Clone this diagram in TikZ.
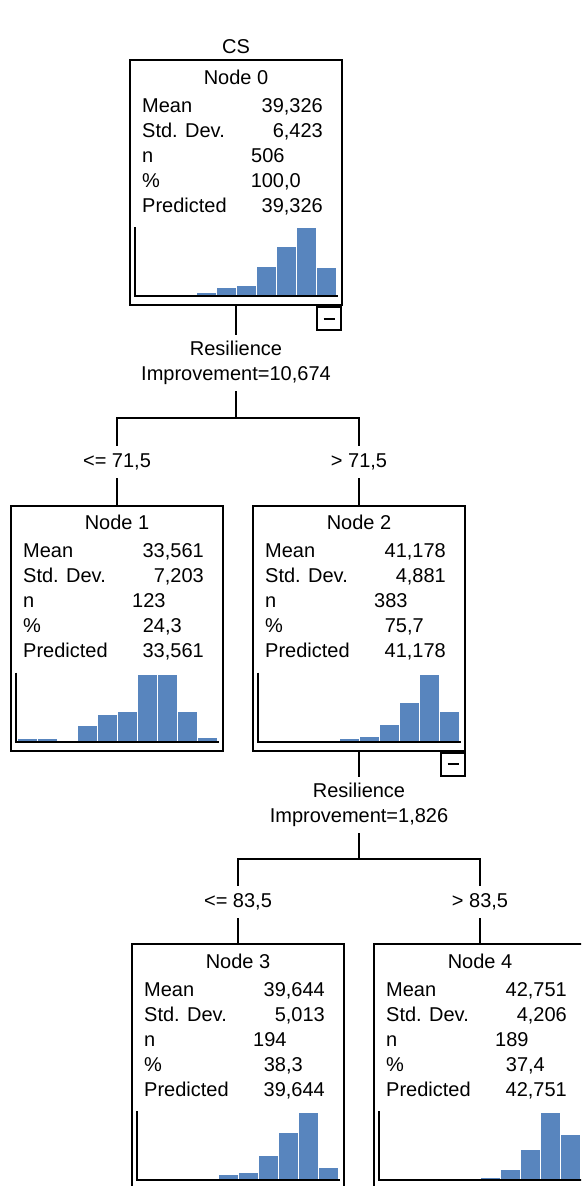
\documentclass[tikz,border=0pt]{standalone}
\usepackage{fontspec}
\setmainfont{Liberation Sans}
\definecolor{barblue}{RGB}{88,133,190}
\newcommand{\treebox}[8]{
\node[box] (#1) at #2 {};
\node[txt, anchor=base] (#1-title) at ([yshift=-25]#1.north) {#3};
\node[txt, anchor=base west] (#1-l1) at ([shift={(13,-53)}]#1.north west) {Mean};
\node[txt, anchor=base west] (#1-l2) at ([shift={(13,-78)}]#1.north west) {Std. Dev.};
\node[txt, anchor=base west] (#1-l3) at ([shift={(13,-103)}]#1.north west) {n};
\node[txt, anchor=base west] (#1-l4) at ([shift={(13,-128)}]#1.north west) {\%};
\node[txt, anchor=base west] (#1-l5) at ([shift={(13,-153)}]#1.north west) {Predicted};
\node[txt, anchor=base east] (#1-v1) at ([shift={(194,-53)}]#1.north west) {#4};
\node[txt, anchor=base east] (#1-v2) at ([shift={(194,-78)}]#1.north west) {#5};
\node[txt, anchor=base west] (#1-v3) at ([shift={(122,-103)}]#1.north west) {#6};
\node[txt, anchor=base east] (#1-v4) at ([shift={(172,-128)}]#1.north west) {#7};
\node[txt, anchor=base east] (#1-v5) at ([shift={(194,-153)}]#1.north west) {#4};
\foreach \h [count=\i] in {#8}
  \fill[bar] ([shift={({7.5+20*(\i-1)},-237)}]#1.north west) rectangle ++(20,\h);
\draw[axis] ([shift={(6,-168)}]#1.north west) |- ([shift={(-5,-237)}]#1.north east);
}
\begin{document}
\begin{tikzpicture}[x=1pt, y=1pt,
  every node/.style={font=\fontsize{20}{25}\selectfont},
  box/.style={draw, line width=2pt, minimum width=212, minimum height=245, inner sep=0pt},
  txt/.style={inner sep=0pt},
  bar/.style={fill=barblue, draw=white, line width=0.8pt},
  axis/.style={line width=2pt},
  link/.style={line width=2pt},
  minus/.style={draw, line width=2pt, minimum width=24, minimum height=23, inner sep=0pt},
  split/.style={align=center, inner xsep=2pt, inner ysep=6pt},
  branch/.style={inner xsep=2pt, inner ysep=8pt}]
\useasboundingbox (0,0) rectangle (581,-1186);
\clip (0,0) rectangle (581,-1186);
\node (title) at (236,-47) {CS};
\treebox{n0}{(236,-182.5)}{Node 0}{39,326}{6,423}{506}{100,0}{1.7,1.7,0,4,8.7,11,29.7,49.7,68.3,29}
\treebox{n1}{(117,-628)}{Node 1}{33,561}{7,203}{123}{24,3}{2.7,2.7,0,16,26.7,30,67,67,30,4.3}
\treebox{n2}{(359,-628)}{Node 2}{41,178}{4,881}{383}{75,7}{0,0,0,0,3.3,5,17,39,67,30}
\treebox{n3}{(238,-1066.5)}{Node 3}{39,644}{5,013}{194}{38,3}{0,0,0,0,5.7,8,25,48,67.7,13}
\treebox{n4}{(480,-1066.5)}{Node 4}{42,751}{4,206}{189}{37,4}{0,0,0,0,1.7,2.3,10.7,30.7,67.7,45.7}
\node[minus, anchor=north east] (n0-m) at ([xshift=-1]n0.south east) {\rule{11pt}{2pt}};
\node[minus, anchor=north east] (n2-m) at (n2.south east) {\rule{11pt}{2pt}};
\node[split] (s0) at (236,-363) {Resilience\\Improvement=10,674};
\coordinate (j0) at (236,-418);
\node[branch] (l1) at (117,-462) {<= 71,5};
\node[branch] (r1) at (359,-462) {> 71,5};
\node[split] (s2) at (359,-805) {Resilience\\Improvement=1,826};
\coordinate (j2) at (359,-859);
\node[branch] (l2) at (238,-902) {<= 83,5};
\node[branch] (r2) at (480,-902) {> 83,5};
\draw[link] (n0.south) -- (s0.north);
\draw[link] (s0.south) -- (j0);
\draw[link] (l1.north) |- (j0) -| (r1.north);
\draw[link] (l1.south) -- (n1.north);
\draw[link] (r1.south) -- (n2.north);
\draw[link] (n2.south) -- (s2.north);
\draw[link] (s2.south) -- (j2);
\draw[link] (l2.north) |- (j2) -| (r2.north);
\draw[link] (l2.south) -- (n3.north);
\draw[link] (r2.south) -- (n4.north);
\end{tikzpicture}
\end{document}
